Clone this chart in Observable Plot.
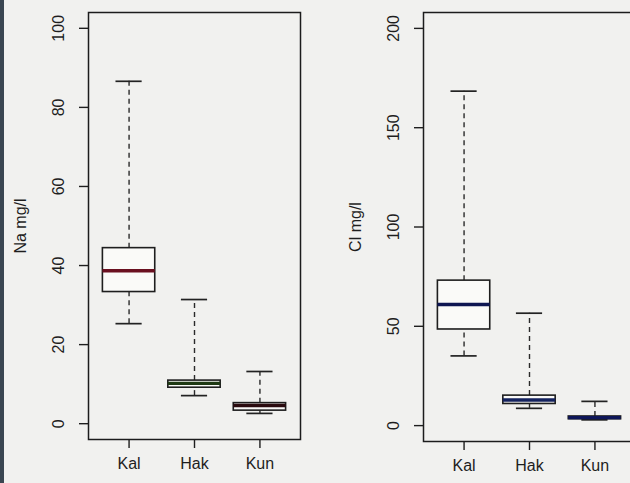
<!DOCTYPE html>
<html>
<head>
<meta charset="utf-8">
<script src="https://cdn.jsdelivr.net/npm/d3@7"></script>
<script src="https://cdn.jsdelivr.net/npm/@observablehq/plot@0.6"></script>
<style>
  html, body { margin: 0; padding: 0; background: #f1f1ef; }
  #wrap { position: relative; width: 630px; height: 483px; overflow: hidden; background: #f1f1ef; }
  #strip { position: absolute; left: 0; top: 0; width: 4px; height: 483px; background: #3a4651; }
  #left { position: absolute; left: 0; top: 0; width: 310px; height: 483px; }
  #right { position: absolute; left: 335px; top: 0; width: 310px; height: 483px; }
  #wrap svg { max-width: none !important; width: 310px; height: 483px; display: block; }
</style>
</head>
<body>
<div id="wrap">
  <div id="left"></div>
  <div id="right"></div>
  <div id="strip"></div>
</div>
<script>
// ---- data ----
const categories = ["Kal", "Hak", "Kun"];

const naLower  = [25.3, 7.1, 2.6];
const naQ1     = [33.3, 9.1, 3.3];
const naMedian = [38.7, 10.2, 4.6];
const naQ3     = [44.4, 10.9, 5.2];
const naUpper  = [86.6, 31.4, 13.2];

const clLower  = [35.1, 8.7, 2.9];
const clQ1     = [48.4, 10.9, 3.2];
const clMedian = [61.0, 12.9, 4.0];
const clQ3     = [73.0, 15.1, 4.6];
const clUpper  = [168.4, 56.6, 12.2];

const naTicks = [0, 20, 40, 60, 80, 100];
const clTicks = [0, 50, 100, 150, 200];

// ---- styles ----
const naMedianColors = ["#6a1020", "#1f3a14", "#2a0a0e"];
const clMedianColors = ["#0e1652", "#14225e", "#0e1658"];
const font = "'Liberation Sans', Arial, Helvetica, sans-serif";
const fs = 16;

function panel({label, lower, q1, median, q3, upper, ticks, yDomain, marginBottom, medColors}) {
  const rows = categories.map((c, k) => ({
    c, i: k + 1, lower: lower[k], q1: q1[k], median: median[k], q3: q3[k], upper: upper[k], mc: medColors[k]
  }));
  const dash = {stroke: "#2a2a2a", strokeWidth: 1.4, strokeDasharray: "5,4"};
  const cap = {stroke: "#222", strokeWidth: 1.7};
  return Plot.plot({
    width: 310,
    height: 483,
    marginLeft: 88,
    marginRight: 10,
    marginTop: 12,
    marginBottom,
    style: {background: "transparent", fontFamily: font, fontSize: fs + "px", color: "#1e1e1e"},
    x: {domain: [0.38, 3.62], axis: null},
    y: {domain: yDomain, axis: null},
    marks: [
      Plot.ruleX(rows, {x: "i", y1: "q3", y2: "upper", ...dash}),
      Plot.ruleX(rows, {x: "i", y1: "lower", y2: "q1", ...dash}),
      Plot.ruleY(rows, {y: "upper", x1: d => d.i - 0.2, x2: d => d.i + 0.2, ...cap}),
      Plot.ruleY(rows, {y: "lower", x1: d => d.i - 0.2, x2: d => d.i + 0.2, ...cap}),
      Plot.rect(rows, {x1: d => d.i - 0.4, x2: d => d.i + 0.4, y1: "q1", y2: "q3",
        fill: "#fafaf8", stroke: "#1e1e1e", strokeWidth: 1.6}),
      Plot.ruleY(rows, {y: "median", x1: d => d.i - 0.4, x2: d => d.i + 0.4, stroke: "mc", strokeWidth: 3.4}),
      Plot.frame({stroke: "#1c1c1c", strokeWidth: 1.5}),
      Plot.axisY({ticks, tickSize: 9, tickFormat: () => "", label: null, strokeWidth: 1.4}),
      Plot.text(ticks, {y: d => d, text: d => String(d), frameAnchor: "left", dx: -30, rotate: -90,
        textAnchor: "middle", lineAnchor: "middle", fontSize: fs, fill: "#1e1e1e"}),
      Plot.axisX({ticks: [1, 2, 3], tickFormat: i => categories[i - 1], tickSize: 9, tickPadding: 9,
        label: null, fontSize: fs, strokeWidth: 1.4}),
      Plot.text([label], {text: d => d, frameAnchor: "left", dx: -68, rotate: -90,
        textAnchor: "middle", lineAnchor: "middle", fontSize: fs, fill: "#1e1e1e"})
    ]
  });
}

document.getElementById("left").appendChild(panel({
  label: "Na mg/l", lower: naLower, q1: naQ1, median: naMedian, q3: naQ3, upper: naUpper,
  ticks: naTicks, yDomain: [-4, 104], marginBottom: 44, medColors: naMedianColors
}));
document.getElementById("right").appendChild(panel({
  label: "Cl mg/l", lower: clLower, q1: clQ1, median: clMedian, q3: clQ3, upper: clUpper,
  ticks: clTicks, yDomain: [-8, 208], marginBottom: 42, medColors: clMedianColors
}));
</script>
</body>
</html>
